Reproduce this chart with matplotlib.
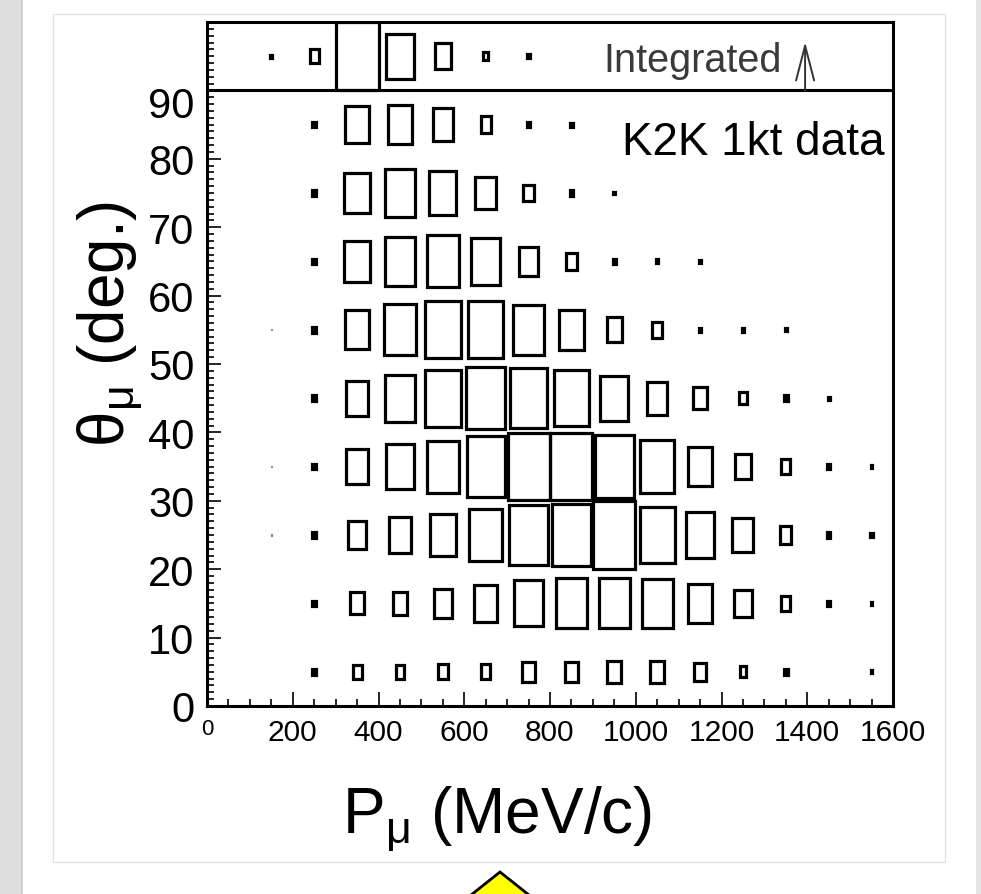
import matplotlib
matplotlib.use("Agg")
import matplotlib.pyplot as plt
from matplotlib.patches import Rectangle, Polygon
from matplotlib.ticker import FixedLocator, MultipleLocator
from matplotlib.transforms import offset_copy

plt.rcParams["font.family"] = ["Liberation Sans", "DejaVu Sans"]
plt.rcParams["mathtext.fontset"] = "custom"
plt.rcParams["mathtext.rm"] = "Liberation Sans"
plt.rcParams["mathtext.it"] = "Liberation Sans:italic"

# ── Data: relative box size per (theta, P) bin ───────────────────────────────
p_centers = [150, 250, 350, 450, 550, 650, 750, 850, 950, 1050, 1150, 1250, 1350, 1450, 1550]
theta_centers = [5, 15, 25, 35, 45, 55, 65, 75, 85]
p_bin = 100
theta_bin = 10

size_5  = [0.00, 0.08, 0.21, 0.20, 0.22, 0.22, 0.29, 0.29, 0.32, 0.32, 0.27, 0.16, 0.08, 0.00, 0.04]
size_15 = [0.00, 0.08, 0.32, 0.34, 0.43, 0.54, 0.67, 0.73, 0.73, 0.72, 0.58, 0.40, 0.21, 0.08, 0.04]
size_25 = [0.02, 0.08, 0.41, 0.53, 0.62, 0.76, 0.89, 0.92, 0.98, 0.81, 0.67, 0.49, 0.26, 0.08, 0.06]
size_35 = [0.02, 0.08, 0.51, 0.66, 0.76, 0.89, 0.98, 0.98, 0.92, 0.78, 0.58, 0.37, 0.21, 0.08, 0.04]
size_45 = [0.00, 0.08, 0.51, 0.69, 0.83, 0.90, 0.87, 0.81, 0.66, 0.48, 0.32, 0.18, 0.08, 0.04, 0.00]
size_55 = [0.02, 0.08, 0.57, 0.74, 0.83, 0.83, 0.73, 0.58, 0.36, 0.23, 0.06, 0.06, 0.04, 0.00, 0.00]
size_65 = [0.00, 0.08, 0.61, 0.71, 0.76, 0.68, 0.43, 0.26, 0.08, 0.06, 0.04, 0.00, 0.00, 0.00, 0.00]
size_75 = [0.00, 0.08, 0.59, 0.69, 0.63, 0.48, 0.24, 0.08, 0.04, 0.00, 0.00, 0.00, 0.00, 0.00, 0.00]
size_85 = [0.00, 0.08, 0.54, 0.58, 0.48, 0.24, 0.08, 0.06, 0.00, 0.00, 0.00, 0.00, 0.00, 0.00, 0.00]
size_integrated = [0.04, 0.21, 1.00, 0.66, 0.38, 0.12, 0.05, 0.00, 0.00, 0.00, 0.00, 0.00, 0.00, 0.00, 0.00]
theta_integrated = 95

rows = [size_5, size_15, size_25, size_35, size_45, size_55, size_65, size_75, size_85]

x_ticks = [0, 200, 400, 600, 800, 1000, 1200, 1400, 1600]
y_ticks = [0, 10, 20, 30, 40, 50, 60, 70, 80, 90]

# ── Figure / slide background ────────────────────────────────────────────────
W, H = 981, 895
fig = plt.figure(figsize=(W / 100, H / 100), dpi=100)
fig.patch.set_facecolor("white")

bg = fig.add_axes([0, 0, 1, 1])
bg.set_xlim(0, W)
bg.set_ylim(H, 0)
bg.axis("off")
bg.add_patch(Rectangle((0, 0), 21, H, facecolor="#dedede", edgecolor="none"))
bg.plot([21.5, 21.5], [0, H], color="#c8c8c8", lw=1.2)
bg.add_patch(Rectangle((976, 0), 5, H, facecolor="#e4e4e4", edgecolor="none"))
bg.add_patch(Rectangle((53, 15), 892, 848, facecolor="white",
                       edgecolor="#e2e2e2", lw=1.0))
bg.add_patch(Polygon([(500, 873), (466, 900), (534, 900)], closed=True,
                     facecolor="#ffff00", edgecolor="black", lw=2.0))

# ── Main box plot ────────────────────────────────────────────────────────────
ax = fig.add_axes([207 / W, 1 - 707 / H, 686 / W, 684 / H])
ax.set_xlim(0, 1600)
ax.set_ylim(0, 100)


def draw_box(ax, xc, yc, s):
    if s <= 0:
        return
    thin = s < 0.03
    ax.add_patch(Rectangle((xc - s * p_bin / 2, yc - s * theta_bin / 2),
                           s * p_bin, s * theta_bin,
                           fill=(s <= 0.1 and not thin), facecolor="black",
                           edgecolor="#8a8a8a" if thin else "black",
                           lw=1.0 if thin else 2.3, zorder=3))


for th, row in zip(theta_centers, rows):
    for p, s in zip(p_centers, row):
        draw_box(ax, p, th, s)
for p, s in zip(p_centers, size_integrated):
    draw_box(ax, p, theta_integrated, s)

ax.axhline(90, color="black", lw=2.2, zorder=4)

for sp in ax.spines.values():
    sp.set_linewidth(2.2)

ax.xaxis.set_major_locator(FixedLocator(x_ticks))
ax.xaxis.set_minor_locator(MultipleLocator(50))
ax.yaxis.set_major_locator(FixedLocator(y_ticks))
ax.yaxis.set_minor_locator(MultipleLocator(1))
ax.set_xticks(x_ticks, [str(v) for v in x_ticks])
ax.set_yticks(y_ticks, [str(v) for v in y_ticks])
ax.tick_params(which="both", direction="in", top=False, right=False,
               width=1.2, color="black")
ax.tick_params(which="major", length=10)
ax.tick_params(which="minor", length=5)
ax.tick_params(axis="y", labelsize=30, pad=9)
ax.tick_params(axis="x", labelsize=21.5, pad=9)
ax.get_xticklabels()[0].set_fontsize(16)
lab90 = ax.get_yticklabels()[-1]
lab90.set_transform(offset_copy(lab90.get_transform(), fig=fig, y=-11, units="dots"))

# ── Texts ────────────────────────────────────────────────────────────────────
ax.text(924, 92.8, "Integrated", ha="left", va="baseline", fontsize=28.5,
        color="#3a3a3a", zorder=5)
ax.annotate("", xy=(1395, 97.1), xytext=(1395, 90),
            arrowprops=dict(arrowstyle="->,head_length=2.5,head_width=0.65",
                            lw=1.4, color="#333333", mutation_scale=10,
                            shrinkA=0, shrinkB=0), zorder=5)
ax.text(1581, 80.7, "K2K 1kt data", ha="right", va="baseline", fontsize=33,
        color="black", zorder=5)

fig.text(110 / W, 1 - 324 / H, r"$\mathrm{\theta_{\mu}}$ (deg.)", rotation=90,
         ha="center", va="center", fontsize=46)
fig.text(497 / W, 1 - 833 / H, r"$\mathrm{P_{\mu}}$ (MeV/c)",
         ha="center", va="baseline", fontsize=46)

fig.savefig("out.png", dpi=100, facecolor="white")
